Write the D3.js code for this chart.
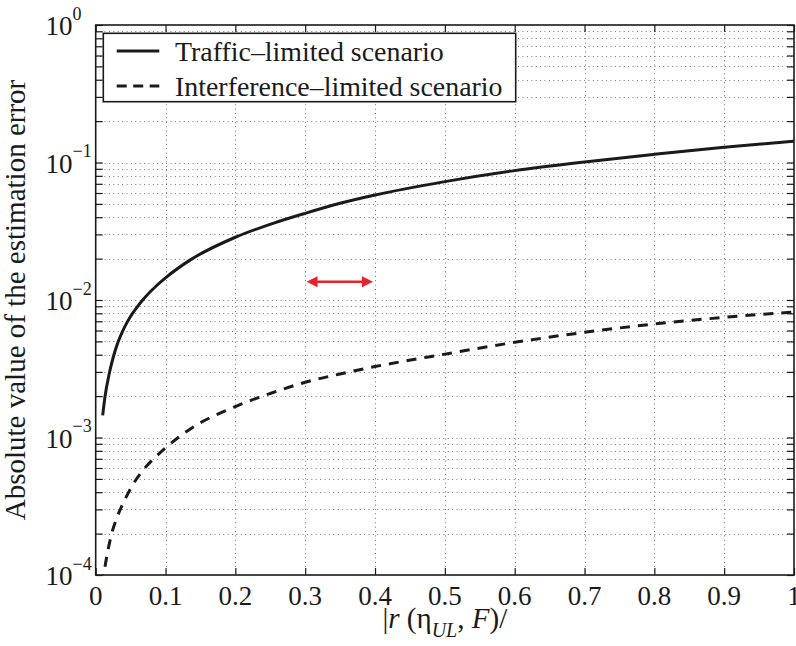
<!DOCTYPE html>
<html><head><meta charset="utf-8">
<script src="https://cdn.jsdelivr.net/npm/d3@7"></script>
<style>body{margin:0;background:#fff} svg{display:block}</style>
</head><body><svg id="c" width="796" height="646"></svg>
<script>
// ---- data ----
const xTicks = [0, 0.1, 0.2, 0.3, 0.4, 0.5, 0.6, 0.7, 0.8, 0.9, 1];
const xTickLabels = ["0", "0.1", "0.2", "0.3", "0.4", "0.5", "0.6", "0.7", "0.8", "0.9", "1"];
const yTicks = [1e-4, 1e-3, 1e-2, 1e-1, 1];
const yTickExponents = ["\u22124", "\u22123", "\u22122", "\u22121", "0"];
const seriesNames = ["Traffic\u2013limited scenario", "Interference\u2013limited scenario"];

const xTraffic = [0.01, 0.0133, 0.0195, 0.0252, 0.031, 0.0386, 0.0453, 0.0525, 0.0587, 0.0673, 0.087, 0.1, 0.135, 0.2, 0.254, 0.3, 0.35, 0.4, 0.5, 0.6, 0.7, 0.8, 0.9, 1.0];
const yTraffic = [0.00145, 0.00198, 0.00293, 0.00385, 0.00478, 0.00593, 0.00693, 0.00795, 0.0088, 0.0100, 0.0127, 0.0145, 0.0195, 0.0286, 0.0361, 0.0427, 0.0505, 0.058, 0.0726, 0.0873, 0.1009, 0.1146, 0.129, 0.143];

const xInterf = [0.01, 0.0119, 0.018, 0.0229, 0.03, 0.042, 0.0516, 0.068, 0.0874, 0.1, 0.135, 0.2, 0.25, 0.3, 0.35, 0.4, 0.5, 0.6, 0.7, 0.8, 0.9, 1.0];
const yInterf = [0.000085, 0.000102, 0.000155, 0.0002, 0.000258, 0.000355, 0.00044, 0.00058, 0.000735, 0.00084, 0.00115, 0.00168, 0.00209, 0.00252, 0.0029, 0.00328, 0.00404, 0.00492, 0.00582, 0.00669, 0.00748, 0.00818];

const arrowX = [0.302, 0.397];
const arrowY = 0.0136;

// ---- layout ----
const L = 95.7, R = 794, T = 25, B = 575;
const INK = "#1a1a1a";
const FONT = '"Liberation Serif", monospace';

const svg = d3.select("#c");
const x = d3.scaleLinear().domain([0, 1]).range([L, R]);
const y = d3.scaleLog().domain([1e-4, 1]).range([B, T]);

const minorY = [];
[1e-4, 1e-3, 1e-2, 1e-1].forEach(d => { for (let k = 2; k <= 9; k++) minorY.push(d * k); });

// ---- grid ----
const grid = svg.append("g").attr("stroke", "#777").attr("stroke-width", 1).attr("stroke-dasharray", "1 3.4");
grid.selectAll("line.gx").data(xTicks.slice(1, -1)).join("line")
  .attr("x1", d => Math.round(x(d)) + 0.5).attr("x2", d => Math.round(x(d)) + 0.5)
  .attr("y1", T).attr("y2", B);
grid.selectAll("line.gy").data(yTicks.slice(1, -1).concat(minorY)).join("line")
  .attr("y1", d => Math.round(y(d)) + 0.5).attr("y2", d => Math.round(y(d)) + 0.5)
  .attr("x1", L).attr("x2", R);

// ---- ticks via axes (inward) ----
const tickLen = 7;
const axB = svg.append("g").attr("transform", `translate(0,${B})`)
  .call(d3.axisBottom(x).tickValues(xTicks).tickSize(-tickLen).tickFormat(""));
const axT = svg.append("g").attr("transform", `translate(0,${T})`)
  .call(d3.axisTop(x).tickValues(xTicks).tickSize(-tickLen).tickFormat(""));
const axLft = svg.append("g").attr("transform", `translate(${L},0)`)
  .call(d3.axisLeft(y).tickValues(yTicks.concat(minorY)).tickSize(-tickLen).tickFormat(""));
const axRgt = svg.append("g").attr("transform", `translate(${R},0)`)
  .call(d3.axisRight(y).tickValues(yTicks.concat(minorY)).tickSize(-tickLen).tickFormat(""));
[axB, axT, axLft, axRgt].forEach(a => {
  a.select(".domain").remove();
  a.selectAll(".tick line").attr("stroke", INK).attr("stroke-width", 1.2);
  a.selectAll(".tick text").remove();
});

// ---- tick labels ----
svg.append("g").selectAll("text").data(xTicks).join("text")
  .attr("x", d => x(d)).attr("y", 604.5)
  .attr("text-anchor", "middle").attr("font-size", 27).attr("fill", INK)
  .style("font-family", FONT)
  .text((d, i) => xTickLabels[i]);

const yl = svg.append("g").selectAll("text").data(yTicks).join("text")
  .attr("x", 45.5).attr("y", d => y(d) + 10)
  .attr("font-size", 27).attr("fill", INK).style("font-family", FONT);
yl.append("tspan").text("10");
yl.append("tspan").attr("font-size", 18).attr("dy", -15.5).text((d, i) => yTickExponents[i]);

// ---- curves ----
svg.append("clipPath").attr("id", "clip").append("rect")
  .attr("x", L).attr("y", T).attr("width", R - L).attr("height", B - T);
const line = d3.line().x(d => x(d[0])).y(d => y(d[1])).curve(d3.curveMonotoneX);
const plot = svg.append("g").attr("clip-path", "url(#clip)");
plot.append("path").datum(xTraffic.map((v, i) => [v, yTraffic[i]]))
  .attr("d", line).attr("fill", "none").attr("stroke", INK).attr("stroke-width", 3);
plot.append("path").datum(xInterf.map((v, i) => [v, yInterf[i]]))
  .attr("d", line).attr("fill", "none").attr("stroke", INK).attr("stroke-width", 3)
  .attr("stroke-dasharray", "10 8");

// ---- red double arrow ----
const ax1 = x(arrowX[0]), ax2 = x(arrowX[1]), ay = y(arrowY);
const RED = "#e8202a", hl = 11, hw = 5.5;
svg.append("line").attr("x1", ax1 + hl - 1).attr("x2", ax2 - hl + 1).attr("y1", ay).attr("y2", ay)
  .attr("stroke", RED).attr("stroke-width", 2.5);
svg.append("path").attr("fill", RED)
  .attr("d", `M${ax1},${ay}L${ax1 + hl},${ay - hw}L${ax1 + hl},${ay + hw}Z`);
svg.append("path").attr("fill", RED)
  .attr("d", `M${ax2},${ay}L${ax2 - hl},${ay - hw}L${ax2 - hl},${ay + hw}Z`);

// ---- axes box ----
svg.append("rect").attr("x", L).attr("y", T).attr("width", R - L).attr("height", B - T)
  .attr("fill", "none").attr("stroke", INK).attr("stroke-width", 1.6);

// ---- legend ----
const lg = svg.append("g");
lg.append("rect").attr("x", 103.3).attr("y", 33.3).attr("width", 412.4).attr("height", 68.4)
  .attr("fill", "#fff").attr("stroke", INK).attr("stroke-width", 1.6);
const rowsY = [51, 86];
const dashes = [null, "10 6.5"];
rowsY.forEach((ry, i) => {
  lg.append("line").attr("x1", 116.7).attr("x2", 159.3).attr("y1", ry).attr("y2", ry)
    .attr("stroke", INK).attr("stroke-width", 3).attr("stroke-dasharray", dashes[i]);
  lg.append("text").attr("x", 175).attr("y", ry + 9.9)
    .attr("font-size", 27.9).attr("fill", INK).style("font-family", FONT).text(seriesNames[i]);
});

// ---- axis labels ----
const xl = svg.append("text").attr("x", (L + R) / 2).attr("y", 627.5)
  .attr("text-anchor", "middle").attr("font-size", 29).attr("fill", INK).style("font-family", FONT);
xl.append("tspan").text("|");
xl.append("tspan").attr("font-style", "italic").text("r");
xl.append("tspan").text(" (\u03b7");
xl.append("tspan").attr("font-style", "italic").attr("font-size", 20).attr("dy", 9).text("UL");
xl.append("tspan").attr("dy", -9).text(", ");
xl.append("tspan").attr("font-style", "italic").text("F");
xl.append("tspan").text(")/");

svg.append("text").attr("transform", "rotate(-90)").attr("x", -(T + B) / 2).attr("y", 24.5)
  .attr("text-anchor", "middle").attr("font-size", 29).attr("fill", INK).style("font-family", FONT)
  .text("Absolute value of the estimation error");
</script></body></html>
